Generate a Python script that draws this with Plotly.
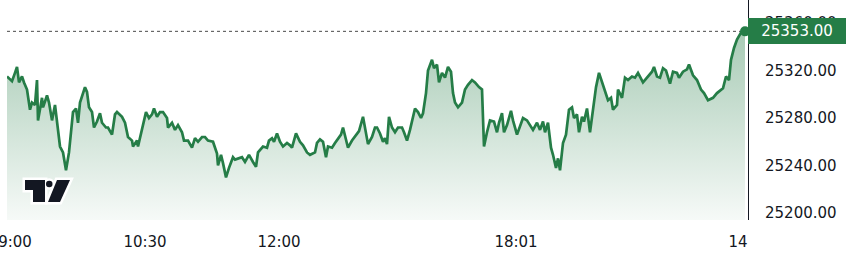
import plotly.graph_objects as go

# bar index (time position) and close values
bars = [0, 5, 8, 10, 12, 15, 17, 20, 23, 25, 28, 30, 31, 35, 36, 40, 42, 45, 48, 51,
        53, 56, 59, 62, 66, 69, 71, 73, 78, 80, 82, 85, 87, 90, 93, 95, 99, 101, 105, 108,
        110, 115, 118, 121, 125, 126, 130, 131, 135, 137, 139, 142, 145, 147, 150, 153, 156, 160, 161, 165,
        168, 171, 175, 177, 181, 185, 188, 191, 195, 198, 201, 206, 210, 211, 214, 216, 219, 222, 226, 228,
        231, 235, 238, 242, 246, 249, 251, 256, 260, 262, 265, 267, 270, 273, 276, 280, 283, 285, 289, 293,
        296, 300, 303, 308, 310, 313, 316, 319, 321, 325, 328, 331, 334, 336, 339, 341, 345, 349, 352, 356,
        358, 361, 365, 368, 370, 373, 376, 378, 380, 382, 385, 388, 391, 395, 397, 400, 403, 406, 408, 411,
        414, 416, 419, 421, 425, 427, 430, 432, 435, 438, 441, 444, 446, 448, 451, 455, 458, 461, 465, 468,
        472, 475, 477, 480, 483, 487, 490, 492, 495, 497, 500, 504, 506, 510, 513, 516, 520, 523, 526, 530,
        533, 536, 538, 541, 544, 546, 549, 551, 553, 556, 559, 562, 565, 567, 570, 572, 575, 577, 580, 583,
        586, 589, 592, 595, 598, 601, 604, 606, 610, 611, 615, 618, 621, 625, 628, 631, 636, 640, 645, 647,
        650, 653, 656, 659, 663, 666, 670, 672, 676, 680, 682, 686, 690, 694, 697, 701, 706, 710, 716, 719,
        722, 724, 727, 730, 734, 738]
closes = [25315, 25311, 25318, 25323, 25310, 25315, 25310, 25304, 25287, 25293, 25291, 25312, 25278, 25297, 25289, 25299, 25293, 25278, 25291, 25272,
          25256, 25251, 25236, 25251, 25285, 25288, 25276, 25293, 25306, 25302, 25289, 25285, 25272, 25277, 25284, 25276, 25272, 25272, 25266, 25283,
          25285, 25281, 25276, 25264, 25261, 25256, 25261, 25256, 25272, 25278, 25285, 25280, 25283, 25288, 25281, 25285, 25285, 25280, 25272, 25276,
          25270, 25274, 25268, 25261, 25261, 25255, 25263, 25260, 25264, 25264, 25261, 25260, 25250, 25240, 25249, 25242, 25230, 25238, 25247, 25245,
          25246, 25247, 25243, 25249, 25243, 25239, 25251, 25256, 25255, 25261, 25263, 25260, 25267, 25260, 25256, 25259, 25257, 25255, 25267, 25260,
          25257, 25251, 25249, 25251, 25259, 25262, 25260, 25247, 25256, 25255, 25259, 25263, 25266, 25272, 25261, 25255, 25261, 25266, 25269, 25281,
          25272, 25258, 25264, 25272, 25272, 25267, 25260, 25263, 25258, 25281, 25272, 25268, 25272, 25272, 25268, 25261, 25270, 25280, 25288, 25285,
          25280, 25284, 25301, 25320, 25329, 25322, 25325, 25310, 25318, 25314, 25323, 25319, 25301, 25293, 25289, 25293, 25304, 25308, 25312, 25310,
          25306, 25304, 25256, 25268, 25278, 25277, 25268, 25276, 25284, 25268, 25274, 25286, 25278, 25266, 25274, 25280, 25278, 25274, 25270, 25276,
          25270, 25277, 25268, 25276, 25255, 25249, 25238, 25246, 25236, 25259, 25266, 25287, 25289, 25280, 25283, 25268, 25281, 25277, 25288, 25268,
          25287, 25306, 25318, 25310, 25301, 25295, 25297, 25287, 25291, 25304, 25297, 25314, 25312, 25315, 25314, 25318, 25310, 25314, 25319, 25323,
          25315, 25314, 25322, 25320, 25309, 25319, 25318, 25314, 25319, 25321, 25325, 25316, 25312, 25304, 25301, 25295, 25297, 25301, 25305, 25315,
          25312, 25329, 25339, 25346, 25352, 25353]

last_price = 25353.00
tick_bars = [8, 138, 272, 509, 731]
tick_text = ["9:00", "10:30", "12:00", "18:01", "14"]
price_ticks = [25200, 25240, 25280, 25320, 25360]

GREEN = "#257d47"
DARK = "#131722"
FONT = "'DejaVu Sans', Verdana, sans-serif"

fig = go.Figure()
fig.add_trace(go.Scatter(
    x=bars, y=closes, mode="lines",
    line=dict(color=GREEN, width=2.7),
    fill="tozeroy",
    fillgradient=dict(type="vertical",
                      colorscale=[[0, "rgba(37,125,71,0.04)"], [1, "rgba(37,125,71,0.40)"]],
                      start=25194, stop=last_price),
    hoverinfo="skip", showlegend=False,
))
fig.add_trace(go.Scatter(
    x=[bars[-1]], y=[closes[-1]], mode="markers",
    marker=dict(color=GREEN, size=10),
    hoverinfo="skip", showlegend=False, cliponaxis=False,
))

shapes = [
    dict(type="line", xref="paper", yref="y", x0=0, x1=0.995, y0=last_price, y1=last_price,
         line=dict(color="#4a4a4a", width=1, dash="dot"), layer="below"),
]
logo_kw = dict(xref="paper", yref="paper", xsizemode="pixel", ysizemode="pixel",
               xanchor=0, yanchor=0, layer="above")
t_path = "M18,40 L38,40 L38,18 L26,18 L26,30 L18,30 Z"
s_path = "M50,40 L63,40 L53,18 L41,18 Z"
for col, lw in (("white", 5), (DARK, 0)):
    shapes.append(dict(type="path", path=t_path, fillcolor=col,
                       line=dict(color=col, width=lw), **logo_kw))
    shapes.append(dict(type="path", path=s_path, fillcolor=col,
                       line=dict(color=col, width=lw), **logo_kw))
    shapes.append(dict(type="circle", x0=39, x1=45.5, y0=32.8, y1=39.2, fillcolor=col,
                       line=dict(color=col, width=lw), **logo_kw))

fig.update_layout(
    width=853, height=260,
    margin=dict(l=7, r=105, t=0, b=40),
    paper_bgcolor="white", plot_bgcolor="white",
    font=dict(family=FONT, size=15, color=DARK),
    showlegend=False,
    shapes=shapes,
    xaxis=dict(range=[0, 741], tickvals=tick_bars, ticktext=tick_text,
               showgrid=False, zeroline=False, showline=False, ticks="",
               ticklabelstandoff=11, ticklabeloverflow="allow",
               automargin=False, fixedrange=True,
               tickfont=dict(family=FONT, size=15, color=DARK)),
    yaxis=dict(range=[25194.1, 25379.4], side="right", tickvals=price_ticks,
               ticktext=[f"{v:.2f}" for v in price_ticks],
               showgrid=False, zeroline=False, showline=True, linecolor=DARK, linewidth=1,
               ticks="", ticklabelstandoff=13, ticklabeloverflow="allow",
               automargin=False, fixedrange=True,
               tickfont=dict(family=FONT, size=15, color=DARK)),
    annotations=[dict(xref="paper", yref="y", x=1, y=last_price, xanchor="left", yanchor="middle",
                      text=f"{last_price:.2f}", showarrow=False, bgcolor=GREEN,
                      font=dict(family=FONT, size=15, color="white"),
                      width=94, height=22, borderpad=2, borderwidth=0, align="center")],
)

fig.write_html("out.html", config={"displayModeBar": False})
